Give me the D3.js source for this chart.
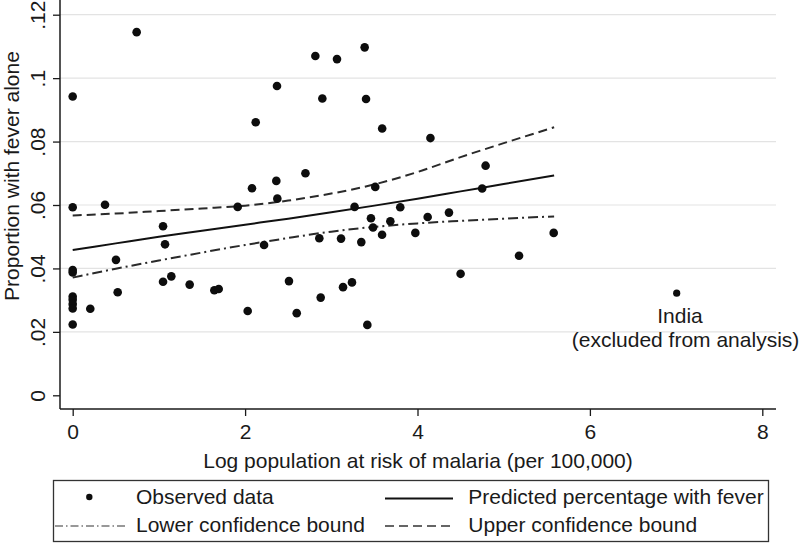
<!DOCTYPE html>
<html>
<head>
<meta charset="utf-8">
<script src="https://cdn.jsdelivr.net/npm/d3@7"></script>
<style>
  html, body { margin: 0; padding: 0; background: #fff; }
  svg { display: block; }
  text { font-family: "Liberation Sans", Arial, Helvetica, sans-serif; fill: #1a1a1a; }
</style>
</head>
<body>
<svg id="chart" width="800" height="544"></svg>
<script>
// ---------------- data ----------------
const obsX = [0, 0.742, 2.123, 2.08, 1.914, 0, 0.375, 2.37, 2.815, 3.066, 3.387, 2.896, 3.403, 3.59, 4.15,
  2.70, 2.362, 4.79, 2.374, 3.51, 4.75, 3.27, 3.80, 1.048, 1.071, 0, 0, 0.502, 0.522, 1.048, 1.144, 1.357,
  1.643, 1.694, 2.03, 0, 0, 0, 0, 0.204, 0, 2.22, 3.46, 3.685, 4.118, 4.365, 3.484, 3.589, 3.975, 2.861,
  3.113, 3.348, 5.58, 5.178, 4.50, 2.509, 3.136, 3.24, 2.877, 2.599, 3.418];
const obsY = [0.0942, 0.1145, 0.0861, 0.0653, 0.0594, 0.0593, 0.0601, 0.0975, 0.1070, 0.1060, 0.1097, 0.0936,
  0.0934, 0.0841, 0.0811, 0.0700, 0.0676, 0.0724, 0.0620, 0.0657, 0.0652, 0.0594, 0.0593, 0.0533, 0.0476,
  0.0395, 0.0387, 0.0427, 0.0325, 0.0358, 0.0375, 0.0349, 0.0331, 0.0335, 0.0266, 0.0311, 0.0301, 0.0288,
  0.0274, 0.0273, 0.0223, 0.0474, 0.0558, 0.0549, 0.0562, 0.0576, 0.0529, 0.0506, 0.0512, 0.0495, 0.0494,
  0.0483, 0.0512, 0.0440, 0.0383, 0.0360, 0.0341, 0.0356, 0.0308, 0.0259, 0.0222];

const indiaX = [7.007];
const indiaY = [0.0322];
const indiaLabel = ["India", "(excluded from analysis)"];

const fitX      = [0, 0.5, 1, 1.5, 2, 2.5, 3, 3.5, 4, 4.5, 5, 5.585];
const predicted = [0.0458, 0.0479, 0.0500, 0.0519, 0.0538, 0.0557, 0.0577, 0.0598, 0.0620, 0.0643, 0.0666, 0.0693];
const lowerCI   = [0.0371, 0.0399, 0.0425, 0.0450, 0.0474, 0.0496, 0.0516, 0.0531, 0.0542, 0.0550, 0.0557, 0.0564];
const upperCI   = [0.0567, 0.0573, 0.0581, 0.0589, 0.0598, 0.0614, 0.0636, 0.0665, 0.0704, 0.0751, 0.0795, 0.0845];

const xTicks = [0, 2, 4, 6, 8];
const yTicks = [0, 0.02, 0.04, 0.06, 0.08, 0.10, 0.12];
const yTickLabels = ["0", ".02", ".04", ".06", ".08", ".1", ".12"];

const xTitle = "Log population at risk of malaria (per 100,000)";
const yTitle = "Proportion with fever alone";
const legendLabels = ["Observed data", "Predicted percentage with fever", "Lower confidence bound", "Upper confidence bound"];

// ---------------- layout ----------------
const frame = { left: 60, right: 776, top: 0, bottom: 409 };
const x = d3.scaleLinear().domain([0, 8]).range([72.7, 762.3]);
const y = d3.scaleLinear().domain([0, 0.12]).range([395.3, 14.7]);

const svg = d3.select("#chart");
const FS = 21;
const ink = "#1a1a1a";

// grid
svg.append("g").selectAll("line")
  .data(yTicks.filter(d => d > 0))
  .join("line")
  .attr("x1", frame.left).attr("x2", frame.right)
  .attr("y1", d => y(d)).attr("y2", d => y(d))
  .attr("stroke", "#e3e3e3").attr("stroke-width", 1.2);

// axes
const xAxis = svg.append("g")
  .attr("transform", `translate(0,${frame.bottom})`)
  .call(d3.axisBottom(x).tickValues(xTicks).tickSize(7).tickPadding(8).tickFormat(d3.format("d")));
xAxis.select(".domain").remove();
xAxis.selectAll(".tick line").attr("stroke", ink).attr("stroke-width", 1.3);
xAxis.selectAll(".tick text").attr("font-size", FS).attr("fill", ink)
  .attr("font-family", "Liberation Sans, Arial, sans-serif");

const yAxis = svg.append("g")
  .attr("transform", `translate(${frame.left},0)`)
  .call(d3.axisLeft(y).tickValues(yTicks).tickSize(7).tickFormat((d, i) => yTickLabels[i]));
yAxis.select(".domain").remove();
yAxis.selectAll(".tick line").attr("stroke", ink).attr("stroke-width", 1.3);
yAxis.selectAll(".tick text")
  .attr("x", null).attr("dy", null)
  .attr("text-anchor", "middle")
  .attr("transform", "translate(-15,0) rotate(-90)")
  .attr("font-size", FS).attr("fill", ink)
  .attr("font-family", "Liberation Sans, Arial, sans-serif");

// frame lines (axis spines)
svg.append("line").attr("x1", frame.left).attr("x2", frame.left)
  .attr("y1", frame.top).attr("y2", frame.bottom)
  .attr("stroke", ink).attr("stroke-width", 1.5);
svg.append("line").attr("x1", frame.left).attr("x2", frame.right)
  .attr("y1", frame.bottom).attr("y2", frame.bottom)
  .attr("stroke", ink).attr("stroke-width", 1.5);

// titles
svg.append("text").attr("x", (frame.left + frame.right) / 2).attr("y", 468)
  .attr("text-anchor", "middle").attr("font-size", FS).text(xTitle);
svg.append("text").attr("transform", "translate(19,176) rotate(-90)")
  .attr("text-anchor", "middle").attr("font-size", FS).text(yTitle);

// fitted lines
const line = d3.line().x(d => x(d[0])).y(d => y(d[1])).curve(d3.curveMonotoneX);
const series = [
  { vals: upperCI, dash: "9,5", color: "#2a2a2a" },
  { vals: lowerCI, dash: "10,4,2,4", color: "#2a2a2a" },
  { vals: predicted, dash: null, color: "#111" }
];
series.forEach(s => {
  svg.append("path")
    .datum(fitX.map((v, i) => [v, s.vals[i]]))
    .attr("d", line)
    .attr("fill", "none")
    .attr("stroke", s.color)
    .attr("stroke-width", 2)
    .attr("stroke-dasharray", s.dash);
});

// points
svg.append("g").selectAll("circle")
  .data(obsX.map((v, i) => [v, obsY[i]]))
  .join("circle")
  .attr("cx", d => x(d[0])).attr("cy", d => y(d[1]))
  .attr("r", 4.3).attr("fill", "#0d0d0d");

svg.append("g").selectAll("circle")
  .data(indiaX.map((v, i) => [v, indiaY[i]]))
  .join("circle")
  .attr("cx", d => x(d[0])).attr("cy", d => y(d[1]))
  .attr("r", 3.6).attr("fill", "#0d0d0d");

svg.append("text").attr("x", 680).attr("y", 322.5)
  .attr("text-anchor", "middle").attr("font-size", FS).text(indiaLabel[0]);
svg.append("text").attr("x", 685.5).attr("y", 346.5)
  .attr("text-anchor", "middle").attr("font-size", FS).text(indiaLabel[1]);

// legend
const lg = svg.append("g");
lg.append("rect").attr("x", 53.5).attr("y", 480.5).attr("width", 715).attr("height", 61)
  .attr("fill", "#fff").attr("stroke", "#333").attr("stroke-width", 1.3);

lg.append("circle").attr("cx", 89.3).attr("cy", 497).attr("r", 3.2).attr("fill", "#0d0d0d");
lg.append("text").attr("x", 136).attr("y", 504).attr("font-size", FS).text(legendLabels[0]);

lg.append("line").attr("x1", 385).attr("x2", 453).attr("y1", 498.5).attr("y2", 498.5)
  .attr("stroke", "#111").attr("stroke-width", 1.8);
lg.append("text").attr("x", 468.3).attr("y", 504).attr("font-size", FS).text(legendLabels[1]);

lg.append("line").attr("x1", 55).attr("x2", 128).attr("y1", 526).attr("y2", 526)
  .attr("stroke", "#333").attr("stroke-width", 1.2).attr("stroke-dasharray", "8,3,1.5,3");
lg.append("text").attr("x", 136).attr("y", 531.5).attr("font-size", FS).text(legendLabels[2]);

lg.append("line").attr("x1", 385).attr("x2", 453).attr("y1", 526).attr("y2", 526)
  .attr("stroke", "#333").attr("stroke-width", 1.5).attr("stroke-dasharray", "9,5");
lg.append("text").attr("x", 468.3).attr("y", 531.5).attr("font-size", FS).text(legendLabels[3]);
</script>
</body>
</html>
